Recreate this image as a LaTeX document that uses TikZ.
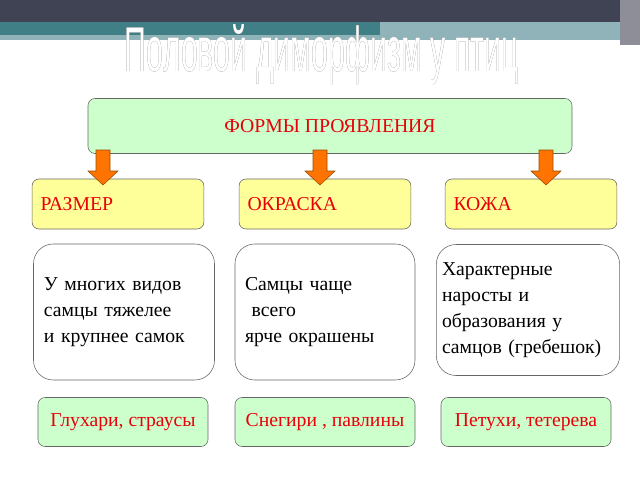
\documentclass[tikz,border=0pt]{standalone}
\usepackage[outline]{contour}
\usepackage{fontspec}
\setmainfont{Liberation Serif}
\newfontfamily\titlefont{Liberation Sans}
\usetikzlibrary{positioning,calc}
\definecolor{formgreen}{HTML}{CCFFCC}
\definecolor{formyellow}{HTML}{FFFF99}
\definecolor{formred}{HTML}{E8000B}
\definecolor{barDark}{HTML}{404354}
\definecolor{barTeal}{HTML}{3F7F85}
\definecolor{barLight}{HTML}{8FB3B8}
\tikzset{
	box/.style    = {draw=black!60, rounded corners=5pt, inner sep=6pt},
	head/.style   = {box, fill=formyellow, minimum width=171*0.025cm, minimum height=50*0.025cm,
		text=formred, font=\fontsize{14}{16}\selectfont, align=left, text width=155*0.025cm},
	desc/.style   = {box, fill=white, rounded corners=14pt, minimum height=136*0.025cm,
		font=\fontsize{14}{18.5}\selectfont, align=left},
	bird/.style   = {box, fill=formgreen, minimum width=170*0.025cm, minimum height=49*0.025cm,
		text=formred, font=\fontsize{14}{16}\selectfont},
	downarrow/.style = {fill=orange!90!red, draw=orange!60!black, thin}
}
\newcommand{\downarr}[2]{% x and y-range in px
	\path[downarrow] (#1-7,#2) -- (#1+7,#2) -- (#1+7,#2+21) -- (#1+15,#2+21) -- (#1,#2+35)
	-- (#1-15,#2+21) -- (#1-7,#2+21) -- cycle;}
\begin{document}
\begin{tikzpicture}[x=0.025cm, y=-0.025cm]
	\useasboundingbox (0,0) rectangle (640,480);
	% top bars
	\fill[barDark] (0,0) rectangle (640,22);
	\fill[barLight] (0,22) rectangle (640,40);
	\fill[barTeal] (0,22) rectangle (380,35);
	\fill[barDark!60] (620,0) rectangle (640,45);
	% title
	\node (title) at (322,55) {\titlefont\fontsize{30}{30}\selectfont
		\scalebox{0.72}[1.5]{\contourlength{0.5pt}\contour{black!60}{\color{white}Половой диморфизм у птиц}}};
	% main
	\node[box, fill=formgreen, minimum width=484*0.025cm, minimum height=55*0.025cm,
		text=formred, font=\fontsize{14}{16}\selectfont] (forms) at (330,126) {ФОРМЫ ПРОЯВЛЕНИЯ};
	\node[head] (size)  at (118,204) {РАЗМЕР};
	\node[head] (color) at (325,204) {ОКРАСКА};
	\node[head] (skin)  at (531,204) {КОЖА};
	\downarr{103}{150}
	\downarr{320}{150}
	\downarr{546}{150}
	\node[desc, minimum width=181*0.025cm, text width=160*0.025cm] (size-d) at (124,312)
		{У многих видов\\самцы тяжелее\\и крупнее самок};
	\node[desc, minimum width=180*0.025cm, text width=160*0.025cm] (color-d) at (325,312)
		{Самцы чаще\\\ всего\\ярче окрашены};
	\node[desc, minimum width=180*0.025cm, minimum height=131*0.025cm, text width=172*0.025cm,
		inner sep=4pt] (skin-d) at (528,310)
		{Характерные\\наросты и\\образования у\\самцов (гребешок)};
	\node[bird] (size-b)  at (123,422) {Глухари, страусы};
	\node[bird, minimum width=180*0.025cm] (color-b) at (325,422) {Снегири , павлины};
	\node[bird] (skin-b)  at (526,422) {Петухи, тетерева};
\end{tikzpicture}
\end{document}
